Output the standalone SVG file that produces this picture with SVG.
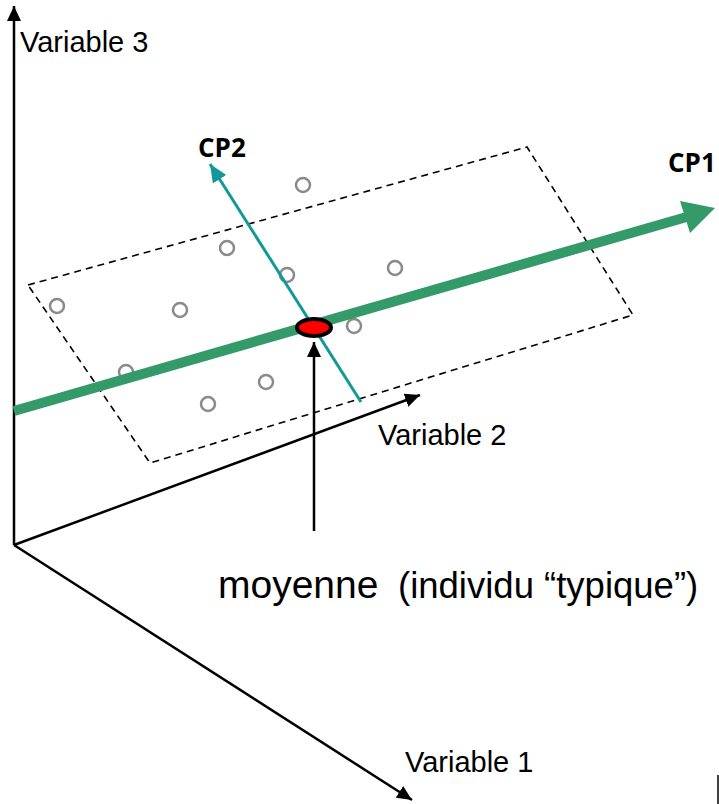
<svg xmlns="http://www.w3.org/2000/svg" width="719" height="804" viewBox="0 0 719 804">
<style>
.axis{stroke:#000;stroke-width:2.5;fill:none}
.lbl{font-family:"Liberation Sans",Arial,sans-serif;fill:#000}
.cp{font-family:"Open Sans","Liberation Sans",sans-serif;font-weight:700;font-size:26px;fill:#000}
.pt{fill:none;stroke:#8a8a8a;stroke-width:2.5}
</style>
<defs>
<marker id="ah" markerWidth="15" markerHeight="14" refX="15" refY="7" orient="auto" markerUnits="userSpaceOnUse">
<path d="M0,0 L15,7 L0,14 Z" fill="#000"/>
</marker>
<marker id="ahT" markerWidth="18" markerHeight="16" refX="18" refY="8" orient="auto" markerUnits="userSpaceOnUse">
<path d="M0,0 L18,8 L0,16 Z" fill="#11999a"/>
</marker>
</defs>
<rect width="719" height="804" fill="#fff"/>
<g id="connectors">
<line class="axis" x1="14" y1="545" x2="14" y2="6" marker-end="url(#ah)"/>
<line class="axis" x1="14" y1="545" x2="420" y2="395" marker-end="url(#ah)"/>
<line class="axis" x1="14" y1="545" x2="412" y2="800" marker-end="url(#ah)"/>
</g>
<g id="plane">
<polygon points="28,285 527,147 633,315 150,463" fill="none" stroke="#000" stroke-width="1.6" stroke-dasharray="7,5"/>
</g>
<g id="points">
<circle class="pt" cx="303" cy="185" r="7"/>
<circle class="pt" cx="227" cy="248" r="7"/>
<circle class="pt" cx="287" cy="275" r="7"/>
<circle class="pt" cx="395" cy="268" r="7"/>
<circle class="pt" cx="57" cy="306" r="7"/>
<circle class="pt" cx="180" cy="310" r="7"/>
<circle class="pt" cx="354" cy="326" r="7"/>
<circle class="pt" cx="126" cy="372" r="7"/>
<circle class="pt" cx="266" cy="382" r="7"/>
<circle class="pt" cx="208" cy="404" r="7"/>
</g>
<g id="cp1">
<line x1="14" y1="411" x2="690" y2="216" stroke="#349a69" stroke-width="10"/>
<polygon points="715,208 680,201 690,233" fill="#349a69"/>
<text class="cp" x="668" y="172">CP1</text>
</g>
<g id="cp2">
<line x1="361" y1="402" x2="210" y2="164" stroke="#11999a" stroke-width="3" marker-end="url(#ahT)"/>
<text class="cp" x="198" y="157">CP2</text>
</g>
<g id="mean">
<ellipse cx="314" cy="327.5" rx="17" ry="8.5" fill="#ff0000" stroke="#000" stroke-width="4"/>
</g>
<g id="mean-label">
<line class="axis" x1="314" y1="531" x2="314" y2="342" stroke-width="2" marker-end="url(#ah)"/>
<text class="lbl" y="598"><tspan x="218" font-size="39">moyenne</tspan><tspan x="398" font-size="36.5">(individu “typique”)</tspan></text>
</g>
<g id="labels">
<text class="lbl" x="20" y="52" font-size="29">Variable 3</text>
<text class="lbl" x="378" y="445" font-size="29">Variable 2</text>
<text class="lbl" x="405" y="772" font-size="29">Variable 1</text>
</g>
<line x1="718" y1="775" x2="718" y2="804" stroke="#000" stroke-width="1.5"/>
</svg>
